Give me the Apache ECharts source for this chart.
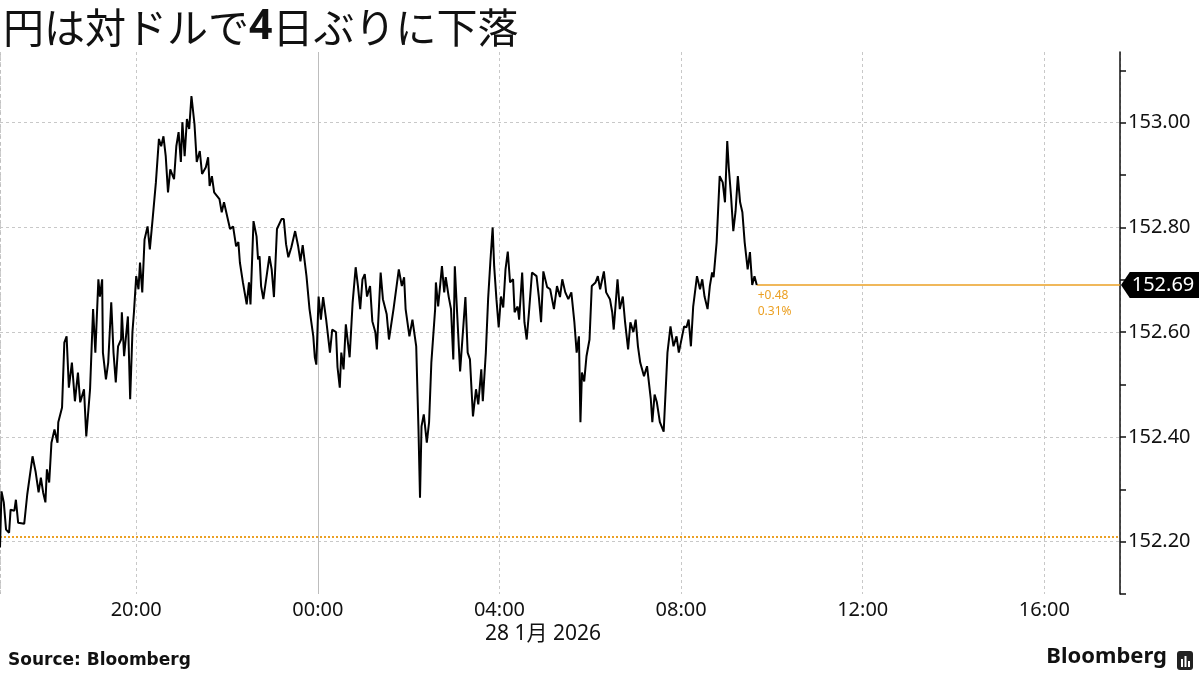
<!DOCTYPE html>
<html>
<head>
<meta charset="utf-8">
<script src="https://cdn.jsdelivr.net/npm/echarts@6/dist/echarts.min.js"></script>
<style>
html,body{margin:0;padding:0;background:#fff;}
#chart{width:1200px;height:675px;}
</style>
</head>
<body>
<div id="chart"></div>
<script>
// ---- data ----
const times = ["17:00","17:02","17:05","17:08","17:12","17:14","17:19","17:21","17:24","17:32","17:36","17:43","17:47","17:51","17:54","17:57",
"18:00","18:02","18:05","18:08","18:12","18:16","18:17","18:22","18:25","18:28","18:31","18:35","18:39","18:43","18:46","18:51","18:54","18:59",
"19:03","19:06","19:10","19:12","19:15","19:16","19:20","19:23","19:27","19:30","19:33","19:36","19:40","19:41","19:44","19:49","19:52","19:55","19:57",
"20:00","20:03","20:05","20:08","20:11","20:15","20:18","20:22","20:26","20:30","20:33","20:36","20:39","20:42","20:45","20:50","20:53","20:56","20:59",
"21:01","21:04","21:07","21:10","21:13","21:17","21:20","21:24","21:27","21:32","21:35","21:37","21:40","21:43","21:50","21:53","21:56",
"22:01","22:04","22:08","22:12","22:15","22:17","22:21","22:26","22:29","22:31","22:35","22:39","22:41","22:43","22:45","22:48","22:53","22:56","22:59",
"23:02","23:06","23:12","23:15","23:18","23:21","23:25","23:30","23:34","23:37","23:40","23:45","23:49","23:54","23:56","23:58",
"00:01","00:04","00:07","00:11","00:16","00:19","00:24","00:26","00:29","00:31","00:34","00:37","00:42","00:46","00:50","00:53","00:56","00:59",
"01:02","01:05","01:09","01:12","01:16","01:18","01:23","01:26","01:31","01:34","01:40","01:47","01:51","01:54","01:56",
"02:01","02:05","02:10","02:13","02:15","02:17","02:20","02:24","02:27","02:30","02:35","02:36","02:39","02:44","02:47","02:49","02:53","02:56","02:59",
"03:01","03:04","03:08","03:11","03:15","03:18","03:21","03:25","03:29","03:32","03:36","03:38","03:42","03:45","03:48","03:51","03:53","03:56","03:59",
"04:02","04:05","04:08","04:11","04:14","04:18","04:20","04:24","04:26","04:30","04:33","04:36","04:39","04:43","04:49","04:52","04:55","04:58",
"05:03","05:07","05:12","05:16","05:20","05:23","05:27","05:31","05:35","05:39","05:42","05:45","05:47","05:49","05:52","05:55","05:59",
"06:02","06:07","06:10","06:13","06:18","06:21","06:26","06:29","06:31","06:36","06:39","06:43","06:46","06:50","06:53","06:57",
"07:00","07:03","07:06","07:11","07:15","07:20","07:22","07:25","07:28","07:32","07:37","07:42","07:46","07:50","07:54","07:57",
"08:04","08:07","08:10","08:13","08:16","08:21","08:25","08:28","08:31","08:35","08:38","08:41","08:43","08:47","08:51","08:55","08:58",
"09:01","09:03","09:06","09:09","09:12","09:15","09:18","09:21","09:24","09:28","09:31","09:34","09:37","09:40"];

const values = [152.189,152.296,152.275,152.223,152.217,152.261,152.259,152.280,152.236,152.234,152.290,152.363,152.334,152.294,152.322,152.294,
152.275,152.338,152.313,152.389,152.414,152.389,152.428,152.456,152.580,152.592,152.494,152.542,152.468,152.523,152.466,152.491,152.401,152.491,
152.644,152.561,152.701,152.668,152.701,152.561,152.510,152.542,152.657,152.561,152.504,152.573,152.586,152.638,152.554,152.630,152.472,152.600,152.638,
152.707,152.682,152.733,152.676,152.777,152.802,152.758,152.821,152.886,152.969,152.955,152.974,152.936,152.867,152.911,152.892,152.955,152.982,152.925,
153.001,152.936,153.007,152.988,153.051,152.997,152.925,152.946,152.902,152.915,152.934,152.879,152.898,152.867,152.854,152.829,152.848,
152.816,152.797,152.802,152.764,152.772,152.733,152.695,152.653,152.695,152.653,152.812,152.783,152.739,152.745,152.688,152.663,152.714,152.745,152.720,
152.667,152.797,152.816,152.816,152.768,152.743,152.762,152.793,152.764,152.735,152.766,152.707,152.644,152.592,152.552,152.538,
152.668,152.624,152.667,152.624,152.561,152.605,152.600,152.533,152.494,152.561,152.529,152.615,152.552,152.657,152.724,152.688,152.644,152.701,
152.711,152.668,152.688,152.621,152.600,152.567,152.714,152.663,152.634,152.586,152.644,152.720,152.688,152.705,152.644,
152.592,152.624,152.573,152.414,152.284,152.420,152.443,152.389,152.428,152.542,152.644,152.695,152.649,152.726,152.676,152.705,152.667,152.644,152.548,
152.726,152.638,152.525,152.586,152.667,152.561,152.548,152.439,152.491,152.462,152.529,152.468,152.561,152.663,152.735,152.800,152.726,152.663,152.609,
152.668,152.647,152.720,152.754,152.695,152.701,152.638,152.649,152.624,152.714,152.619,152.586,152.638,152.714,152.707,152.668,152.619,152.716,
152.686,152.682,152.644,152.688,152.667,152.701,152.676,152.663,152.676,152.619,152.561,152.592,152.428,152.523,152.506,152.554,152.586,
152.688,152.695,152.707,152.682,152.716,152.676,152.663,152.638,152.605,152.701,152.644,152.668,152.619,152.567,152.619,152.600,
152.624,152.573,152.542,152.516,152.535,152.472,152.428,152.481,152.466,152.428,152.410,152.561,152.611,152.573,152.592,152.561,
152.611,152.609,152.624,152.573,152.649,152.707,152.682,152.701,152.668,152.644,152.688,152.714,152.705,152.772,152.898,152.886,152.848,
152.965,152.915,152.860,152.793,152.831,152.898,152.848,152.829,152.772,152.720,152.753,152.690,152.707,152.690];

const yTickValues = [152.20, 152.40, 152.60, 152.80, 153.00];
const yMinorTickValues = [152.10, 152.30, 152.50, 152.70, 152.90, 153.10];
const prevClose = 152.21;
const lastValue = 152.69;
const lastLabel = "152.69";
const changeLabels = ["+0.48", "0.31%"];
const titleParts = ["円は対ドルで", "4", "日ぶりに下落"];
const dateLabel = "28 1月 2026";
const sourceLabel = "Source: Bloomberg";
const axisStart = "2026-01-27T17:00:00";
const axisEnd = "2026-01-28T17:40:00";
const dayBoundary = "2026-01-28T00:00:00";

// ---- build ----
function toTs(t) {
  const h = parseInt(t.slice(0, 2), 10);
  const day = h >= 17 ? "2026-01-27" : "2026-01-28";
  return new Date(day + "T" + t + ":00").getTime();
}
const seriesData = times.map((t, i) => [toTs(t), values[i]]);
const tMin = new Date(axisStart).getTime();
const tMax = new Date(axisEnd).getTime();
const tDay = new Date(dayBoundary).getTime();
const lastTs = seriesData[seriesData.length - 1][0];

const ORANGE = "#eba024";
const GRID = "#c8c8c8";
const FONT = "'Noto Sans', 'Noto Sans CJK JP', sans-serif";
const pad = n => (n < 10 ? "0" : "") + n;

const chart = echarts.init(document.getElementById("chart"), null, {renderer: "canvas"});
chart.setOption({
  animation: false,
  backgroundColor: "#fff",
  title: {
    text: "{a|" + titleParts[0] + "}{b|" + titleParts[1] + "}{a|" + titleParts[2] + "}",
    left: -2, top: 2,
    textStyle: {
      rich: {
        a: {fontFamily: "'Noto Sans CJK JP'", fontSize: 41, color: "#111", fontWeight: "normal"},
        b: {fontFamily: "'Noto Sans'", fontSize: 41, color: "#111", fontWeight: "bold"}
      }
    }
  },
  grid: {left: 0, right: 80, top: 52, bottom: 81, containLabel: false},
  xAxis: {
    type: "time",
    min: tMin, max: tMax,
    minInterval: 4 * 3600 * 1000,
    maxInterval: 4 * 3600 * 1000,
    axisLine: {show: false},
    axisTick: {show: false},
    axisLabel: {
      color: "#111", fontSize: 20, fontFamily: FONT, margin: 6, hideOverlap: false,
      formatter: v => { const d = new Date(v); return pad(d.getHours()) + ":" + pad(d.getMinutes()); }
    },
    splitLine: {show: true, lineStyle: {color: GRID, type: [3, 3], width: 1}}
  },
  yAxis: [{
    type: "value", position: "right", min: 152.10, max: 153.135, scale: true,
    axisLine: {show: true, lineStyle: {color: "#111", width: 1.5}},
    axisTick: {show: true, customValues: yTickValues, length: 6, lineStyle: {color: "#111", width: 1.5}},
    axisLabel: {show: true, customValues: yTickValues, color: "#111", fontSize: 20, fontFamily: FONT, margin: 8,
      formatter: v => v.toFixed(2)},
    splitLine: {show: true, lineStyle: {color: GRID, type: [3, 3], width: 1}}
  }, {
    type: "value", position: "right", min: 152.10, max: 153.135, scale: true,
    axisLine: {show: false},
    axisTick: {show: true, customValues: yMinorTickValues, length: 6, lineStyle: {color: "#111", width: 1.5}},
    axisLabel: {show: false},
    splitLine: {show: false}
  }],
  series: [{
    type: "line",
    data: seriesData,
    showSymbol: false,
    clip: false,
    lineStyle: {color: "#000", width: 2},
    z: 5,
    markLine: {
      silent: true,
      symbol: ["none", "none"],
      label: {show: false},
      data: [
        {yAxis: prevClose, lineStyle: {type: "dotted", color: ORANGE, width: 2}},
        {xAxis: tDay, lineStyle: {type: "solid", color: "#bdbdbd", width: 1}},
        {xAxis: tMin, lineStyle: {type: [4, 4], color: "#bdbdbd", width: 1.5}}
      ]
    },
    markPoint: {
      silent: true,
      data: [
        {
          coord: [tMax, lastValue],
          symbol: "path://M0,13 L9,0 L80,0 L80,26 L9,26 Z",
          symbolSize: [78, 26],
          symbolKeepAspect: false,
          symbolOffset: [40, 0],
          itemStyle: {color: "#000"},
          label: {show: true, position: "inside", offset: [3, 0], formatter: lastLabel,
            color: "#fff", fontSize: 20, fontFamily: FONT}
        },
        {
          coord: [lastTs, lastValue],
          symbol: "circle",
          symbolSize: 0,
          label: {show: true, position: [1, 3], align: "left", verticalAlign: "top",
            formatter: changeLabels.join("\n"), color: ORANGE, fontSize: 12, lineHeight: 16, fontFamily: FONT}
        }
      ]
    }
  }, {
    type: "line",
    data: [[lastTs, lastValue], [tMax, lastValue]],
    showSymbol: false,
    silent: true,
    lineStyle: {color: ORANGE, width: 1.5},
    itemStyle: {color: ORANGE},
    z: 4
  }],
  graphic: [
    {type: "text", x: 543, y: 634, style: {text: dateLabel, fontSize: 21, fill: "#111", fontFamily: FONT, align: "center", verticalAlign: "middle"}},
    {type: "text", left: 8, top: 652, style: {text: sourceLabel, fontSize: 17, fontWeight: "bold", fill: "#111", fontFamily: "'DejaVu Sans', sans-serif"}},
    {type: "text", right: 33, top: 646, style: {text: "Bloomberg", fontSize: 22, fontWeight: "bold", fill: "#111", fontFamily: FONT}},
    {type: "rect", left: 1177, top: 651, shape: {width: 16, height: 19, r: 3}, style: {fill: "#222"}},
    {type: "rect", left: 1181, top: 659, shape: {width: 2, height: 8}, style: {fill: "#fff"}},
    {type: "rect", left: 1184.5, top: 656, shape: {width: 2, height: 11}, style: {fill: "#fff"}},
    {type: "rect", left: 1188, top: 661, shape: {width: 2, height: 6}, style: {fill: "#fff"}}
  ]
});
</script>
</body>
</html>
